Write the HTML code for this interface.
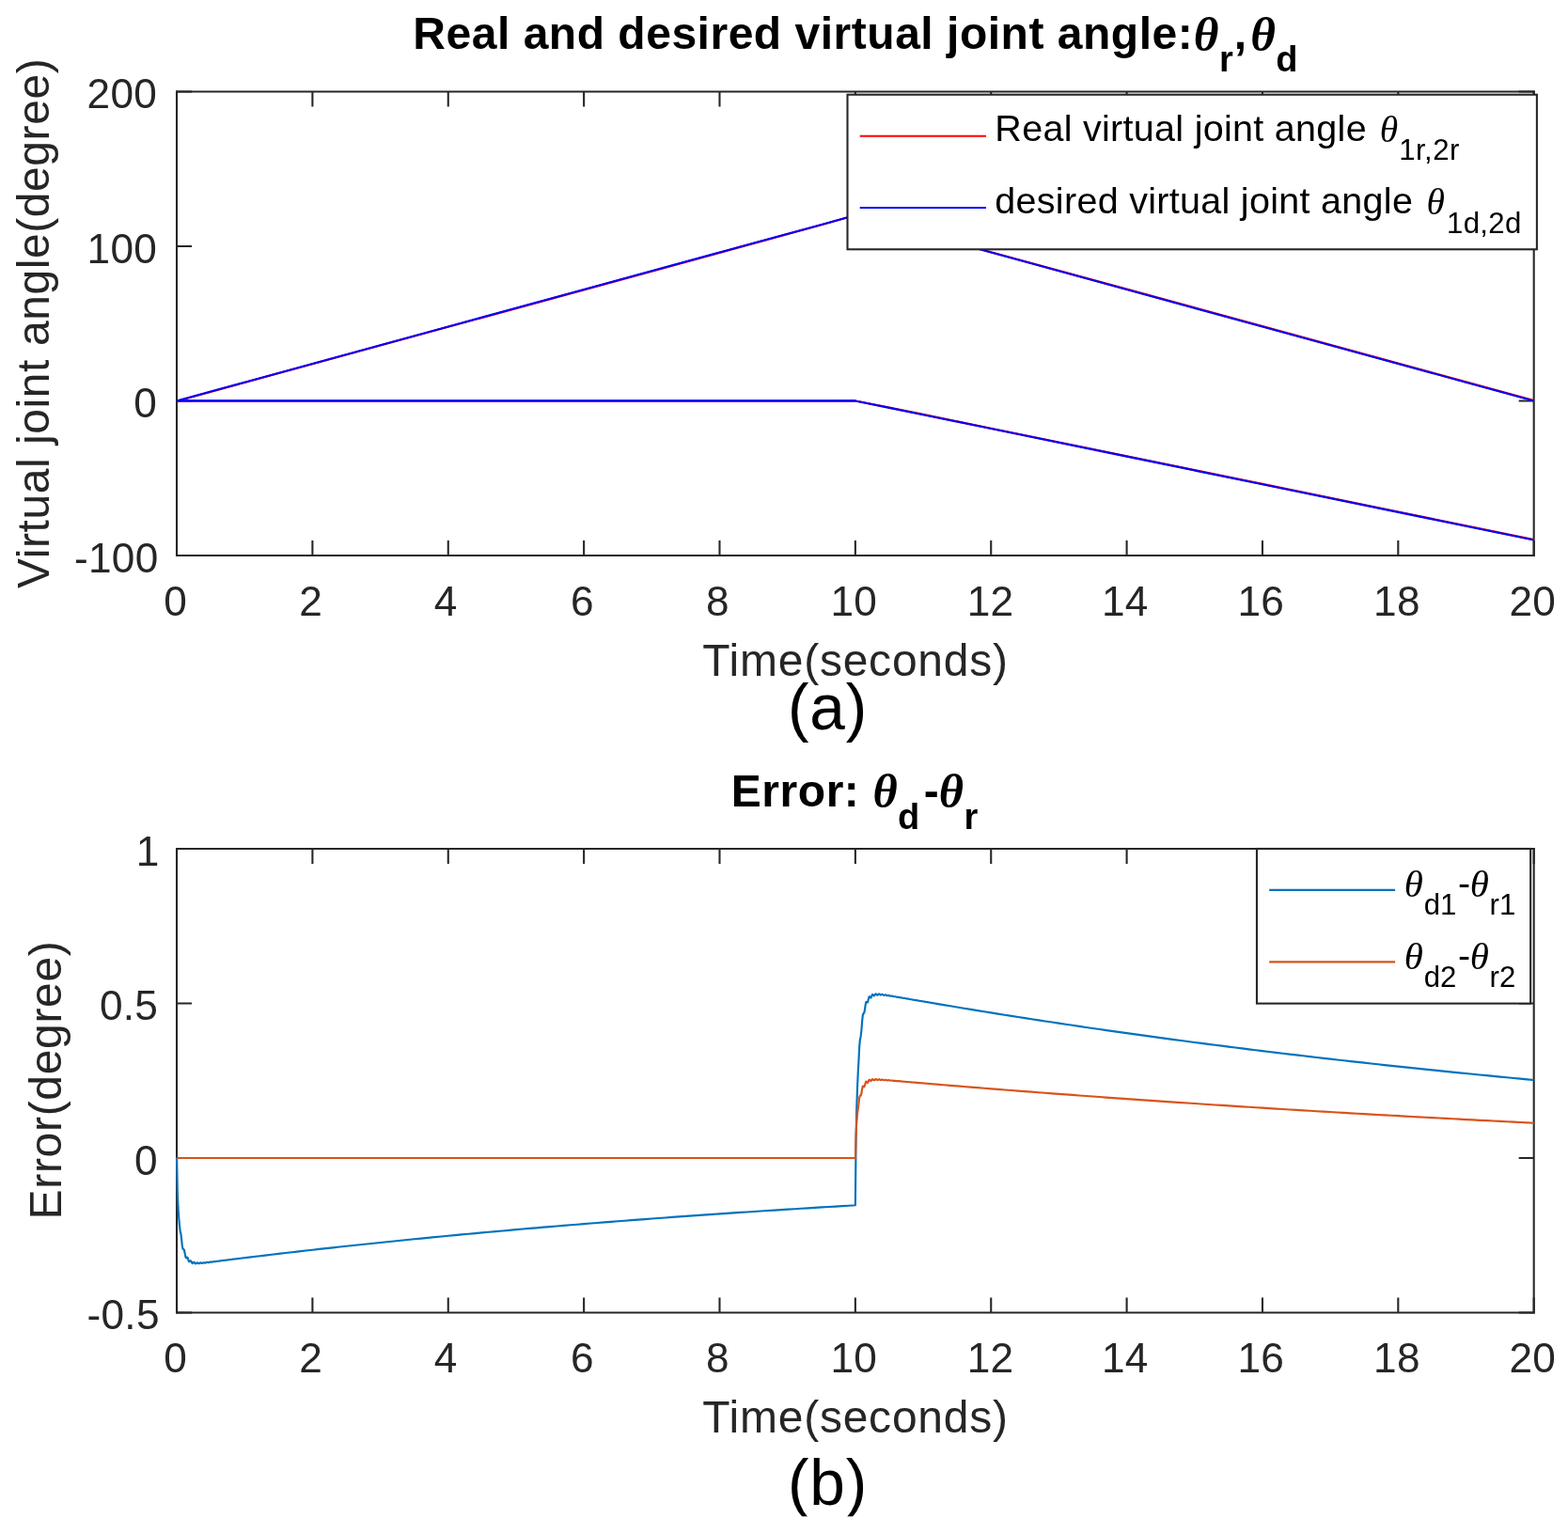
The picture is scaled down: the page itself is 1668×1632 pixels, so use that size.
<!DOCTYPE html>
<html lang="en"><head><meta charset="utf-8"><title>Real and desired virtual joint angle</title>
<style>
html,body{margin:0;padding:0;background:#fff;}
body{width:1668px;height:1632px;overflow:hidden;position:relative;}
svg{display:block;position:absolute;left:0;top:0;}
text{font-family:"Liberation Sans", sans-serif;fill:#262626;white-space:pre;}
.k{fill:#000;}
.b{font-weight:bold;}
.i{font-family:"Liberation Serif", serif;font-style:italic;}
.bi{font-family:"Liberation Serif", serif;font-style:italic;font-weight:bold;}
.bx{fill:none;stroke:#262626;stroke-width:2.08;}
.tk{fill:none;stroke:#262626;stroke-width:2.08;}
.lg{fill:#fff;stroke:#262626;stroke-width:2.08;}
.ln{fill:none;stroke-width:2.15;stroke-linejoin:round;}
</style></head><body>
<svg width="1668" height="1632" viewBox="0 0 1668 1632">
<rect x="0" y="0" width="1668" height="1632" fill="#fff"/>
<path class="tk" d="M188.03 590.93V574.93M188.03 97.46V113.46M332.4 590.93V574.93M332.4 97.46V113.46M476.76 590.93V574.93M476.76 97.46V113.46M621.13 590.93V574.93M621.13 97.46V113.46M765.49 590.93V574.93M765.49 97.46V113.46M909.86 590.93V574.93M909.86 97.46V113.46M1054.23 590.93V574.93M1054.23 97.46V113.46M1198.59 590.93V574.93M1198.59 97.46V113.46M1342.96 590.93V574.93M1342.96 97.46V113.46M1487.32 590.93V574.93M1487.32 97.46V113.46M1631.69 590.93V574.93M1631.69 97.46V113.46M188.03 590.93H204.03M1631.69 590.93H1615.69M188.03 426.44H204.03M1631.69 426.44H1615.69M188.03 261.95H204.03M1631.69 261.95H1615.69M188.03 97.46H204.03M1631.69 97.46H1615.69"/>
<path class="bx" d="M186.99 97.46H1632.73 M186.99 590.93H1632.73"/>
<path class="bx" style="stroke-width:2.08" d="M188.03 96.42V591.97"/>
<path class="bx" style="stroke-width:2.08" d="M1631.69 96.42V591.97"/>
<polyline class="ln" stroke="#ff0000" points="188.03,426.79 224.12,416.92 260.21,407.05 332.4,387.31 476.76,347.83 621.13,308.36 765.49,268.88 873.77,239.27 909.86,229.05 945.95,238.56 982.04,248.43 1054.23,268.17 1198.59,307.65 1342.96,347.12 1487.32,386.6 1559.51,406.34 1631.69,426.08"/>
<polyline class="ln" stroke="#ff0000" points="188.03,426.56 224.12,426.56 260.21,426.56 332.4,426.56 476.76,426.56 621.13,426.56 765.49,426.56 873.77,426.56 909.86,426.44 945.95,433.48 982.04,440.88 1054.23,455.69 1198.59,485.3 1342.96,514.9 1487.32,544.51 1559.51,559.32 1631.69,574.12"/>
<polyline class="ln" stroke="#0000ff" points="188.03,426.44 224.12,416.57 260.21,406.7 332.4,386.96 476.76,347.48 621.13,308.01 765.49,268.53 873.77,238.92 909.86,229.05 945.95,238.92 982.04,248.79 1054.23,268.53 1198.59,308.01 1342.96,347.48 1487.32,386.96 1559.51,406.7 1631.69,426.44"/>
<polyline class="ln" stroke="#0000ff" points="188.03,426.44 224.12,426.44 260.21,426.44 332.4,426.44 476.76,426.44 621.13,426.44 765.49,426.44 873.77,426.44 909.86,426.44 945.95,433.84 982.04,441.24 1054.23,456.05 1198.59,485.66 1342.96,515.26 1487.32,544.87 1559.51,559.68 1631.69,574.48"/>
<text x="174.31" y="654.83" font-size="44.2">0</text>
<text x="318.17" y="654.83" font-size="44.2">2</text>
<text x="461.79" y="654.83" font-size="44.2">4</text>
<text x="606.98" y="654.83" font-size="44.2">6</text>
<text x="750.99" y="654.83" font-size="44.2">8</text>
<text x="883.51" y="654.83" font-size="44.2" letter-spacing="0.28">10</text>
<text x="1028.68" y="654.83" font-size="44.2" letter-spacing="0.28">12</text>
<text x="1171.94" y="654.83" font-size="44.2" letter-spacing="0.28">14</text>
<text x="1316.38" y="654.83" font-size="44.2" letter-spacing="0.28">16</text>
<text x="1461.05" y="654.83" font-size="44.2" letter-spacing="0.28">18</text>
<text x="1605.39" y="654.83" font-size="44.2" letter-spacing="0.28">20</text>
<text x="78.95" y="608.53" font-size="44.2" letter-spacing="0.28">-100</text>
<text x="142.25" y="444.04" font-size="44.2">0</text>
<text x="92.6" y="279.55" font-size="44.2" letter-spacing="0.28">100</text>
<text x="92.6" y="115.06" font-size="44.2" letter-spacing="0.28">200</text>
<rect class="lg" x="901.5" y="100.7" width="733.38" height="164.58"/>
<path class="ln" stroke="#ff0000" d="M914.7 144.7H1049"/>
<path class="ln" stroke="#0000ff" d="M914.7 221H1049"/>
<text class="k"><tspan x="1058.35" y="149.8" font-size="39.5" letter-spacing="0.289">Real virtual joint angle </tspan><tspan x="1467.67" y="150.5" font-size="39.58" class="i">θ</tspan><tspan x="1488.15" y="170.1" font-size="31.2" letter-spacing="0.487">1r,2r</tspan></text>
<text class="k"><tspan x="1058.3" y="226.5" font-size="39.5" letter-spacing="0.294">desired virtual joint angle </tspan><tspan x="1517.58" y="227.8" font-size="39.58" class="i">θ</tspan><tspan x="1539.05" y="247.5" font-size="31.2" letter-spacing="0.312">1d,2d</tspan></text>
<text class="k b"><tspan x="439.35" y="52.1" font-size="48" letter-spacing="0.514" class="b">Real and desired virtual joint angle:</tspan><tspan x="1269.75" y="54.1" font-size="51.37" class="bi">θ</tspan><tspan x="1297.12" y="76" font-size="38" class="b">r</tspan><tspan x="1312.85" y="52.1" font-size="48" class="b">,</tspan><tspan x="1330.15" y="54.1" font-size="51.37" class="bi">θ</tspan><tspan x="1357.22" y="76" font-size="38" class="b">d</tspan></text>
<text><tspan x="747.25" y="718.8" font-size="48" letter-spacing="0.758">Time(seconds)</tspan></text>
<text class="k"><tspan x="837.9" y="775.9" font-size="67.6" letter-spacing="0.9">(a)</tspan></text>
<text transform="translate(51.6 626.05) rotate(-90)" font-size="48" letter-spacing="0.575">Virtual joint angle(degree)</text>
<path class="tk" d="M188.03 1396.55V1380.55M188.03 902.97V918.97M332.4 1396.55V1380.55M332.4 902.97V918.97M476.76 1396.55V1380.55M476.76 902.97V918.97M621.13 1396.55V1380.55M621.13 902.97V918.97M765.49 1396.55V1380.55M765.49 902.97V918.97M909.86 1396.55V1380.55M909.86 902.97V918.97M1054.23 1396.55V1380.55M1054.23 902.97V918.97M1198.59 1396.55V1380.55M1198.59 902.97V918.97M1342.96 1396.55V1380.55M1342.96 902.97V918.97M1487.32 1396.55V1380.55M1487.32 902.97V918.97M1631.69 1396.55V1380.55M1631.69 902.97V918.97M188.03 1396.55H204.03M1631.69 1396.55H1615.69M188.03 1232.02H204.03M1631.69 1232.02H1615.69M188.03 1067.5H204.03M1631.69 1067.5H1615.69M188.03 902.97H204.03M1631.69 902.97H1615.69"/>
<path class="bx" d="M186.99 902.97H1632.73 M186.99 1396.55H1632.73"/>
<path class="bx" style="stroke-width:2.08" d="M188.03 901.93V1397.59"/>
<path class="bx" style="stroke-width:2.08" d="M1631.69 901.93V1397.59"/>
<polyline class="ln" stroke="#0072bd" points="188.03,1232.02 188.75,1267.23 189.47,1284.18 190.2,1294.88 190.92,1302.91 191.64,1309.44 192.36,1312.22 193.08,1318.22 193.8,1325.18 194.53,1328.77 195.25,1329.03 195.97,1329.94 196.69,1333.51 197.41,1337.27 198.14,1338.35 198.86,1337.58 199.58,1337.96 200.3,1340.26 201.02,1342.25 201.74,1342.19 202.47,1341.25 203.19,1341.54 203.91,1343.08 204.63,1344.05 205.35,1343.54 206.08,1342.75 206.8,1343.05 207.52,1344.09 208.24,1344.46 208.96,1343.83 209.68,1343.26 210.41,1343.57 211.13,1344.25 211.85,1344.29 212.57,1343.69 213.29,1343.32 214.02,1343.61 214.74,1344.02 215.46,1343.88 216.18,1343.37 216.9,1343.16 217.63,1343.41 218.35,1343.62 219.07,1343.39 219.79,1342.99 220.51,1342.88 221.23,1343.07 221.96,1343.14 222.68,1342.89 223.4,1342.59 224.12,1342.54 224.84,1342.66 225.57,1342.64 226.29,1342.4 227.01,1342.18 227.73,1342.16 228.45,1342.22 229.17,1342.15 229.9,1341.93 230.62,1341.76 231.34,1341.75 232.06,1341.76 232.78,1341.65 233.51,1341.47 234.23,1341.34 234.95,1341.32 235.67,1341.3 236.39,1341.17 237.11,1341.01 237.84,1340.92 238.56,1340.89 239.28,1340.83 240,1340.7 240.72,1340.57 241.45,1340.48 242.17,1340.44 242.89,1340.37 243.61,1340.24 244.33,1340.12 245.05,1340.05 245.78,1339.99 246.5,1339.91 247.22,1339.79 247.94,1339.68 248.66,1339.61 249.39,1339.54 250.11,1339.45 250.83,1339.34 251.55,1339.24 252.27,1339.17 252.99,1339.09 253.72,1339 254.44,1338.89 255.16,1338.8 255.88,1338.73 256.6,1338.65 257.33,1338.55 258.05,1338.45 258.77,1338.36 259.49,1338.29 260.21,1338.2 260.93,1338.11 261.66,1338.01 262.38,1337.93 263.1,1337.85 263.82,1337.76 264.54,1337.67 265.27,1337.58 265.99,1337.49 266.71,1337.4 267.43,1337.32 268.15,1337.23 268.87,1337.14 269.6,1337.05 270.32,1336.97 271.04,1336.88 271.76,1336.79 272.48,1336.71 273.21,1336.62 273.93,1336.53 274.65,1336.45 281.87,1335.58 289.09,1334.73 296.3,1333.88 303.52,1333.03 310.74,1332.2 317.96,1331.37 325.18,1330.55 332.4,1329.73 339.61,1328.92 346.83,1328.12 354.05,1327.33 361.27,1326.54 368.49,1325.76 375.71,1324.98 382.92,1324.21 390.14,1323.45 397.36,1322.7 404.58,1321.95 411.8,1321.2 419.02,1320.46 426.23,1319.73 433.45,1319.01 440.67,1318.29 447.89,1317.57 455.11,1316.87 462.33,1316.16 469.54,1315.47 476.76,1314.78 483.98,1314.09 491.2,1313.42 498.42,1312.74 505.64,1312.07 512.85,1311.41 520.07,1310.76 527.29,1310.1 534.51,1309.46 541.73,1308.82 548.95,1308.18 556.16,1307.55 563.38,1306.93 570.6,1306.31 577.82,1305.69 585.04,1305.08 592.25,1304.48 599.47,1303.88 606.69,1303.29 613.91,1302.7 621.13,1302.11 628.35,1301.53 635.56,1300.96 642.78,1300.39 650,1299.82 657.22,1299.26 664.44,1298.71 671.66,1298.15 678.87,1297.61 686.09,1297.06 693.31,1296.53 700.53,1295.99 707.75,1295.46 714.97,1294.94 722.18,1294.42 729.4,1293.9 736.62,1293.39 743.84,1292.88 751.06,1292.38 758.28,1291.88 765.49,1291.39 772.71,1290.89 779.93,1290.41 787.15,1289.92 794.37,1289.45 801.59,1288.97 808.8,1288.5 816.02,1288.03 823.24,1287.57 830.46,1287.11 837.68,1286.65 844.9,1286.2 852.11,1285.75 859.33,1285.31 866.55,1284.87 873.77,1284.43 880.99,1284 888.21,1283.57 895.42,1283.14 902.64,1282.72 909.86,1282.3 909.86,1282.3 910.58,1212.32 911.3,1178.61 912.03,1157.3 912.75,1141.28 913.47,1128.24 914.19,1113.44 914.91,1106.18 915.63,1102.72 916.36,1096.42 917.08,1087.05 917.8,1080.1 918.52,1078.24 919.24,1077.73 919.97,1074.26 920.69,1068.9 921.41,1065.86 922.13,1066.16 922.85,1066.5 923.57,1064.3 924.3,1061.16 925.02,1060.1 925.74,1061.12 926.46,1061.51 927.18,1059.96 927.91,1058.16 928.63,1058.07 929.35,1059.16 930.07,1059.4 930.79,1058.26 931.51,1057.28 932.24,1057.64 932.96,1058.57 933.68,1058.63 934.4,1057.8 935.12,1057.35 935.85,1057.87 936.57,1058.58 937.29,1058.52 938.01,1057.95 938.73,1057.81 939.46,1058.36 940.18,1058.86 940.9,1058.74 941.62,1058.38 942.34,1058.44 943.06,1058.93 943.79,1059.27 944.51,1059.14 945.23,1058.94 945.95,1059.11 946.67,1059.53 947.4,1059.75 948.12,1059.65 948.84,1059.57 949.56,1059.79 950.28,1060.13 951,1060.27 951.73,1060.21 952.45,1060.22 953.17,1060.46 953.89,1060.73 954.61,1060.82 955.34,1060.8 956.06,1060.88 956.78,1061.11 957.5,1061.32 958.22,1061.4 958.94,1061.42 959.67,1061.53 960.39,1061.74 961.11,1061.92 961.83,1061.99 962.55,1062.04 963.28,1062.18 964,1062.37 964.72,1062.52 965.44,1062.59 966.16,1062.67 966.88,1062.82 967.61,1062.99 968.33,1063.12 969.05,1063.2 969.77,1063.3 970.49,1063.45 971.22,1063.61 971.94,1063.72 972.66,1063.82 973.38,1063.93 974.1,1064.08 974.82,1064.22 975.55,1064.33 976.27,1064.43 976.99,1064.55 977.71,1064.7 978.43,1064.83 979.16,1064.94 979.88,1065.05 980.6,1065.18 981.32,1065.31 982.04,1065.44 982.76,1065.55 983.49,1065.67 984.21,1065.79 984.93,1065.93 985.65,1066.05 986.37,1066.17 987.1,1066.29 987.82,1066.41 988.54,1066.54 989.26,1066.66 989.98,1066.78 990.7,1066.9 991.43,1067.03 992.15,1067.15 992.87,1067.27 993.59,1067.39 994.31,1067.51 995.04,1067.64 995.76,1067.76 996.48,1067.88 1003.7,1069.1 1010.92,1070.3 1018.13,1071.51 1025.35,1072.7 1032.57,1073.89 1039.79,1075.07 1047.01,1076.24 1054.23,1077.41 1061.44,1078.57 1068.66,1079.72 1075.88,1080.86 1083.1,1082 1090.32,1083.12 1097.54,1084.24 1104.75,1085.36 1111.97,1086.46 1119.19,1087.56 1126.41,1088.65 1133.63,1089.73 1140.85,1090.81 1148.06,1091.88 1155.28,1092.94 1162.5,1093.99 1169.72,1095.04 1176.94,1096.08 1184.16,1097.11 1191.37,1098.13 1198.59,1099.15 1205.81,1100.16 1213.03,1101.17 1220.25,1102.16 1227.47,1103.15 1234.68,1104.14 1241.9,1105.11 1249.12,1106.08 1256.34,1107.05 1263.56,1108 1270.78,1108.95 1277.99,1109.9 1285.21,1110.83 1292.43,1111.76 1299.65,1112.69 1306.87,1113.61 1314.08,1114.52 1321.3,1115.42 1328.52,1116.32 1335.74,1117.21 1342.96,1118.1 1350.18,1118.98 1357.39,1119.86 1364.61,1120.73 1371.83,1121.59 1379.05,1122.44 1386.27,1123.3 1393.49,1124.14 1400.7,1124.98 1407.92,1125.81 1415.14,1126.64 1422.36,1127.46 1429.58,1128.28 1436.8,1129.09 1444.01,1129.9 1451.23,1130.69 1458.45,1131.49 1465.67,1132.28 1472.89,1133.06 1480.11,1133.84 1487.32,1134.61 1494.54,1135.38 1501.76,1136.14 1508.98,1136.9 1516.2,1137.65 1523.42,1138.39 1530.63,1139.14 1537.85,1139.87 1545.07,1140.6 1552.29,1141.33 1559.51,1142.05 1566.73,1142.77 1573.94,1143.48 1581.16,1144.18 1588.38,1144.88 1595.6,1145.58 1602.82,1146.27 1610.04,1146.96 1617.25,1147.64 1624.47,1148.32 1631.69,1148.99"/>
<polyline class="ln" stroke="#d95319" points="188.03,1232.02 188.75,1232.02 189.47,1232.02 190.2,1232.02 190.92,1232.02 191.64,1232.02 192.36,1232.02 193.08,1232.02 193.8,1232.02 194.53,1232.02 195.25,1232.02 195.97,1232.02 196.69,1232.02 197.41,1232.02 198.14,1232.02 198.86,1232.02 199.58,1232.02 200.3,1232.02 201.02,1232.02 201.74,1232.02 202.47,1232.02 203.19,1232.02 203.91,1232.02 204.63,1232.02 205.35,1232.02 206.08,1232.02 206.8,1232.02 207.52,1232.02 208.24,1232.02 208.96,1232.02 209.68,1232.02 210.41,1232.02 211.13,1232.02 211.85,1232.02 212.57,1232.02 213.29,1232.02 214.02,1232.02 214.74,1232.02 215.46,1232.02 216.18,1232.02 216.9,1232.02 217.63,1232.02 218.35,1232.02 219.07,1232.02 219.79,1232.02 220.51,1232.02 221.23,1232.02 221.96,1232.02 222.68,1232.02 223.4,1232.02 224.12,1232.02 224.84,1232.02 225.57,1232.02 226.29,1232.02 227.01,1232.02 227.73,1232.02 228.45,1232.02 229.17,1232.02 229.9,1232.02 230.62,1232.02 231.34,1232.02 232.06,1232.02 232.78,1232.02 233.51,1232.02 234.23,1232.02 234.95,1232.02 235.67,1232.02 236.39,1232.02 237.11,1232.02 237.84,1232.02 238.56,1232.02 239.28,1232.02 240,1232.02 240.72,1232.02 241.45,1232.02 242.17,1232.02 242.89,1232.02 243.61,1232.02 244.33,1232.02 245.05,1232.02 245.78,1232.02 246.5,1232.02 247.22,1232.02 247.94,1232.02 248.66,1232.02 249.39,1232.02 250.11,1232.02 250.83,1232.02 251.55,1232.02 252.27,1232.02 252.99,1232.02 253.72,1232.02 254.44,1232.02 255.16,1232.02 255.88,1232.02 256.6,1232.02 257.33,1232.02 258.05,1232.02 258.77,1232.02 259.49,1232.02 260.21,1232.02 260.93,1232.02 261.66,1232.02 262.38,1232.02 263.1,1232.02 263.82,1232.02 264.54,1232.02 265.27,1232.02 265.99,1232.02 266.71,1232.02 267.43,1232.02 268.15,1232.02 268.87,1232.02 269.6,1232.02 270.32,1232.02 271.04,1232.02 271.76,1232.02 272.48,1232.02 273.21,1232.02 273.93,1232.02 274.65,1232.02 281.87,1232.02 289.09,1232.02 296.3,1232.02 303.52,1232.02 310.74,1232.02 317.96,1232.02 325.18,1232.02 332.4,1232.02 339.61,1232.02 346.83,1232.02 354.05,1232.02 361.27,1232.02 368.49,1232.02 375.71,1232.02 382.92,1232.02 390.14,1232.02 397.36,1232.02 404.58,1232.02 411.8,1232.02 419.02,1232.02 426.23,1232.02 433.45,1232.02 440.67,1232.02 447.89,1232.02 455.11,1232.02 462.33,1232.02 469.54,1232.02 476.76,1232.02 483.98,1232.02 491.2,1232.02 498.42,1232.02 505.64,1232.02 512.85,1232.02 520.07,1232.02 527.29,1232.02 534.51,1232.02 541.73,1232.02 548.95,1232.02 556.16,1232.02 563.38,1232.02 570.6,1232.02 577.82,1232.02 585.04,1232.02 592.25,1232.02 599.47,1232.02 606.69,1232.02 613.91,1232.02 621.13,1232.02 628.35,1232.02 635.56,1232.02 642.78,1232.02 650,1232.02 657.22,1232.02 664.44,1232.02 671.66,1232.02 678.87,1232.02 686.09,1232.02 693.31,1232.02 700.53,1232.02 707.75,1232.02 714.97,1232.02 722.18,1232.02 729.4,1232.02 736.62,1232.02 743.84,1232.02 751.06,1232.02 758.28,1232.02 765.49,1232.02 772.71,1232.02 779.93,1232.02 787.15,1232.02 794.37,1232.02 801.59,1232.02 808.8,1232.02 816.02,1232.02 823.24,1232.02 830.46,1232.02 837.68,1232.02 844.9,1232.02 852.11,1232.02 859.33,1232.02 866.55,1232.02 873.77,1232.02 880.99,1232.02 888.21,1232.02 895.42,1232.02 902.64,1232.02 909.86,1232.02 909.86,1232.02 910.58,1205.82 911.3,1193.2 912.03,1185.24 912.75,1179.25 913.47,1174.39 914.19,1167.63 914.91,1165.56 915.63,1165.68 916.36,1163.46 917.08,1158.8 917.8,1155.54 918.52,1155.57 919.24,1156.34 919.97,1154.89 920.69,1151.99 921.41,1150.58 922.13,1151.37 922.85,1152.1 923.57,1150.99 924.3,1149.18 925.02,1148.74 925.74,1149.7 926.46,1150.18 927.18,1149.29 927.91,1148.18 928.63,1148.25 929.35,1149.11 930.07,1149.35 930.79,1148.63 931.51,1148.01 932.24,1148.3 932.96,1148.98 933.68,1149.04 934.4,1148.49 935.12,1148.18 935.85,1148.56 936.57,1149.05 937.29,1149 938.01,1148.6 938.73,1148.5 939.46,1148.87 940.18,1149.2 940.9,1149.11 941.62,1148.84 942.34,1148.87 943.06,1149.2 943.79,1149.41 944.51,1149.3 945.23,1149.15 945.95,1149.24 946.67,1149.51 947.4,1149.64 948.12,1149.55 948.84,1149.47 949.56,1149.6 950.28,1149.82 951,1149.89 951.73,1149.82 952.45,1149.81 953.17,1149.95 953.89,1150.11 954.61,1150.16 955.34,1150.12 956.06,1150.15 956.78,1150.28 957.5,1150.41 958.22,1150.44 958.94,1150.43 959.67,1150.48 960.39,1150.6 961.11,1150.7 961.83,1150.73 962.55,1150.74 963.28,1150.81 964,1150.92 964.72,1150.99 965.44,1151.02 966.16,1151.05 966.88,1151.13 967.61,1151.23 968.33,1151.29 969.05,1151.32 969.77,1151.37 970.49,1151.45 971.22,1151.53 971.94,1151.59 972.66,1151.63 973.38,1151.68 974.1,1151.76 974.82,1151.83 975.55,1151.89 976.27,1151.93 976.99,1151.99 977.71,1152.07 978.43,1152.13 979.16,1152.19 979.88,1152.24 980.6,1152.3 981.32,1152.37 982.04,1152.43 982.76,1152.49 983.49,1152.54 984.21,1152.61 984.93,1152.67 985.65,1152.74 986.37,1152.79 987.1,1152.85 987.82,1152.91 988.54,1152.97 989.26,1153.03 989.98,1153.09 990.7,1153.15 991.43,1153.21 992.15,1153.27 992.87,1153.33 993.59,1153.39 994.31,1153.45 995.04,1153.51 995.76,1153.57 996.48,1153.63 1003.7,1154.23 1010.92,1154.83 1018.13,1155.42 1025.35,1156 1032.57,1156.59 1039.79,1157.17 1047.01,1157.75 1054.23,1158.32 1061.44,1158.89 1068.66,1159.46 1075.88,1160.02 1083.1,1160.58 1090.32,1161.14 1097.54,1161.69 1104.75,1162.24 1111.97,1162.79 1119.19,1163.33 1126.41,1163.87 1133.63,1164.41 1140.85,1164.94 1148.06,1165.47 1155.28,1166 1162.5,1166.53 1169.72,1167.05 1176.94,1167.57 1184.16,1168.08 1191.37,1168.59 1198.59,1169.1 1205.81,1169.61 1213.03,1170.11 1220.25,1170.61 1227.47,1171.11 1234.68,1171.6 1241.9,1172.1 1249.12,1172.58 1256.34,1173.07 1263.56,1173.55 1270.78,1174.03 1277.99,1174.51 1285.21,1174.98 1292.43,1175.45 1299.65,1175.92 1306.87,1176.39 1314.08,1176.85 1321.3,1177.31 1328.52,1177.77 1335.74,1178.22 1342.96,1178.68 1350.18,1179.13 1357.39,1179.57 1364.61,1180.02 1371.83,1180.46 1379.05,1180.9 1386.27,1181.33 1393.49,1181.77 1400.7,1182.2 1407.92,1182.63 1415.14,1183.05 1422.36,1183.48 1429.58,1183.9 1436.8,1184.31 1444.01,1184.73 1451.23,1185.14 1458.45,1185.56 1465.67,1185.96 1472.89,1186.37 1480.11,1186.77 1487.32,1187.18 1494.54,1187.57 1501.76,1187.97 1508.98,1188.36 1516.2,1188.76 1523.42,1189.15 1530.63,1189.53 1537.85,1189.92 1545.07,1190.3 1552.29,1190.68 1559.51,1191.06 1566.73,1191.44 1573.94,1191.81 1581.16,1192.18 1588.38,1192.55 1595.6,1192.92 1602.82,1193.28 1610.04,1193.64 1617.25,1194.01 1624.47,1194.36 1631.69,1194.72"/>
<text x="174.31" y="1460.45" font-size="44.2">0</text>
<text x="318.17" y="1460.45" font-size="44.2">2</text>
<text x="461.79" y="1460.45" font-size="44.2">4</text>
<text x="606.98" y="1460.45" font-size="44.2">6</text>
<text x="750.99" y="1460.45" font-size="44.2">8</text>
<text x="883.51" y="1460.45" font-size="44.2" letter-spacing="0.28">10</text>
<text x="1028.68" y="1460.45" font-size="44.2" letter-spacing="0.28">12</text>
<text x="1171.94" y="1460.45" font-size="44.2" letter-spacing="0.28">14</text>
<text x="1316.38" y="1460.45" font-size="44.2" letter-spacing="0.28">16</text>
<text x="1461.05" y="1460.45" font-size="44.2" letter-spacing="0.28">18</text>
<text x="1605.39" y="1460.45" font-size="44.2" letter-spacing="0.28">20</text>
<text x="92.5" y="1414.15" font-size="44.2" letter-spacing="0.28">-0.5</text>
<text x="142.95" y="1249.62" font-size="44.2">0</text>
<text x="105.9" y="1085.1" font-size="44.2" letter-spacing="0.28">0.5</text>
<text x="144.7" y="920.57" font-size="44.2">1</text>
<rect class="lg" x="1336.97" y="902.97" width="291.18" height="164.63"/>
<path class="ln" stroke="#0072bd" d="M1350.2 946.9H1484.1"/>
<path class="ln" stroke="#d95319" d="M1350.2 1023.3H1484.1"/>
<text class="k"><tspan x="1493.83" y="953.5" font-size="40.98" class="i">θ</tspan><tspan x="1514.65" y="972.8" font-size="31.2">d1</tspan><tspan x="1551.07" y="953" font-size="39.5">-</tspan><tspan x="1563.78" y="953.5" font-size="40.98" class="i">θ</tspan><tspan x="1584.5" y="972.8" font-size="31.2">r1</tspan></text>
<text class="k"><tspan x="1493.83" y="1030.6" font-size="40.98" class="i">θ</tspan><tspan x="1514.65" y="1049.9" font-size="31.2">d2</tspan><tspan x="1551.07" y="1030.1" font-size="39.5">-</tspan><tspan x="1563.78" y="1030.6" font-size="40.98" class="i">θ</tspan><tspan x="1584.5" y="1049.9" font-size="31.2">r2</tspan></text>
<text class="k b"><tspan x="777.75" y="858" font-size="48" letter-spacing="0.55" class="b">Error: </tspan><tspan x="928.38" y="859.3" font-size="50.53" class="bi">θ</tspan><tspan x="955.12" y="881.7" font-size="38" class="b">d</tspan><tspan x="982.65" y="858" font-size="48" class="b">-</tspan><tspan x="998.77" y="859.3" font-size="50.53" class="bi">θ</tspan><tspan x="1025.47" y="881.7" font-size="38" class="b">r</tspan></text>
<text><tspan x="747.25" y="1524.3" font-size="48" letter-spacing="0.758">Time(seconds)</tspan></text>
<text class="k"><tspan x="837.9" y="1601" font-size="67.6" letter-spacing="0.9">(b)</tspan></text>
<text transform="translate(65.1 1297.45) rotate(-90)" font-size="48" letter-spacing="0.683">Error(degree)</text>
<rect x="830" y="1613.3" width="100" height="12" fill="#fff"/>
</svg></body></html>
